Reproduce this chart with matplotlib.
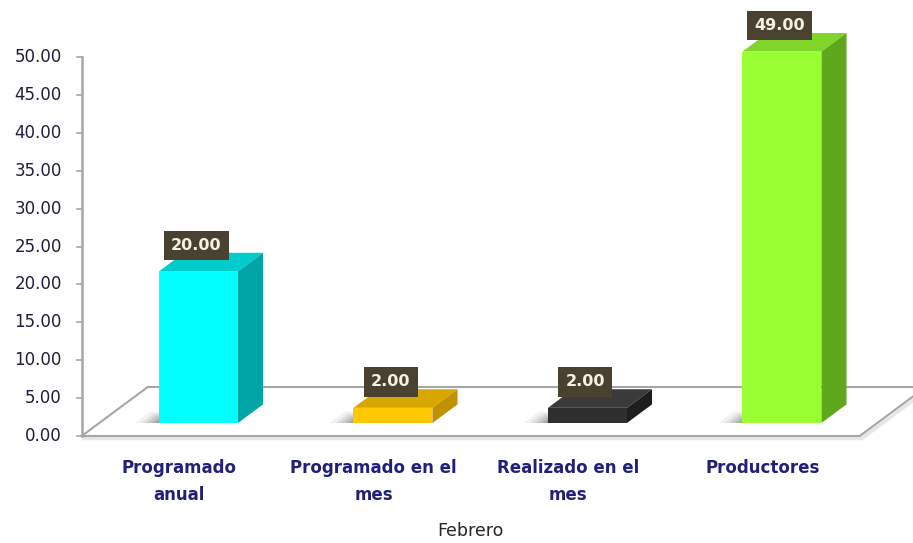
import matplotlib.pyplot as plt
from matplotlib.patches import Polygon

# data
categories = ["Programado\nanual", "Programado en el\nmes", "Realizado en el\nmes", "Productores"]
values = [20.00, 2.00, 2.00, 49.00]
y_ticks = [0, 5, 10, 15, 20, 25, 30, 35, 40, 45, 50]
x_title = "Febrero"

front_colors = ["#00FFFF", "#FFC800", "#2E2E2E", "#99FF33"]
top_colors = ["#00CCCC", "#D9A800", "#3A3A3A", "#80D42A"]
side_colors = ["#00A6A6", "#BF9000", "#1E1E1E", "#5FA81E"]

# pseudo-3d geometry (category units / value units)
PX_X = 194.5          # pixels per category
PX_Y = 7.58           # pixels per value unit
DX, DY = 66 / PX_X, 49 / PX_Y          # floor depth
F0 = 0.265                             # bar front position in depth
BD = 0.38                              # bar depth fraction
BW = 79 / PX_X                         # bar width

fig = plt.figure(figsize=(9.13, 5.43), dpi=100)
ax = fig.add_axes([0, 0, 1, 1])
ax.set_xlim(-179 / PX_X, (913 - 179) / PX_X)
ax.set_ylim(-107 / PX_Y, (543 - 107) / PX_Y)
ax.axis("off")

n = len(categories)
x0, x1 = -0.5, n - 0.5

# floor
floor = [(x0, 0), (x1, 0), (x1 + DX, DY), (x0 + DX, DY)]
ax.add_patch(Polygon(floor, closed=True, fc="white", ec="none", zorder=1))
ax.plot([x0 + 2 / PX_X, x1 + 2 / PX_X, x1 + DX + 2 / PX_X],
        [-2.5 / PX_Y, -2.5 / PX_Y, DY - 2.5 / PX_Y], color="#E6E6E6", lw=2.5, zorder=1.5)
ax.plot([x0, x1, x1 + DX], [0, 0, DY], color="#A6A6A6", lw=1.5, zorder=2)
ax.plot([x0, x0 + DX, x1 + DX], [0, DY, DY], color="#A6A6A6", lw=1.5, zorder=2)

# y axis
ax.plot([x0, x0], [0, 50], color="#A6A6A6", lw=1.8, zorder=3)
for t in y_ticks:
    ax.plot([x0 - 5 / PX_X, x0], [t, t], color="#A6A6A6", lw=1.2, zorder=3)
    ax.text(x0 - 20 / PX_X, t, f"{t:.2f}", ha="right", va="center",
            fontsize=12, color="#1E1E3C")

# bars
base = F0 * DY
bdx, bdy = BD * DX, BD * DY
xc = [i + F0 * DX + 0.01 for i in range(n)]
for i, v in enumerate(values):
    xl, xr = xc[i] - BW / 2, xc[i] + BW / 2
    top = base + v
    # soft shadow on the floor, low left of the bar foot
    for k, a in zip([24, 18, 13, 8, 4], [0.08, 0.11, 0.14, 0.17, 0.2]):
        s = k / PX_X
        h = (3 + k * 0.35) / PX_Y
        sh = [(xl - s, base), (xl + 0.02, base), (xl + 0.02 + h * DX / DY, base + h),
              (xl - s + h * DX / DY, base + h)]
        ax.add_patch(Polygon(sh, closed=True, fc="#505050", ec="none", alpha=a, zorder=3))
    ax.bar(xc[i], v, bottom=base, width=BW, color=front_colors[i], zorder=5)
    ax.add_patch(Polygon([(xl, top), (xr, top), (xr + bdx, top + bdy), (xl + bdx, top + bdy)],
                         closed=True, fc=top_colors[i], ec="none", zorder=4))
    ax.add_patch(Polygon([(xr, base), (xr + bdx, base + bdy), (xr + bdx, top + bdy), (xr, top)],
                         closed=True, fc=side_colors[i], ec="none", zorder=4))
    ax.text(xc[i] - 2 / PX_X, top + 26 / PX_Y, f"{v:.2f}", ha="center", va="center",
            fontsize=11.5, fontweight="bold", color="#F4F0E4", zorder=7,
            bbox=dict(boxstyle="square,pad=0.45", fc="#4A4230", ec="none"))

# category labels
for i, c in enumerate(categories):
    ax.text(i, -3.0, c, ha="center", va="top", fontsize=12, fontweight="bold",
            color="#202078", linespacing=1.68)

ax.text((x0 + x1) / 2, -12.5, x_title, ha="center", va="center", fontsize=12.5, color="#262626")

fig.savefig("out.png", dpi=100)
